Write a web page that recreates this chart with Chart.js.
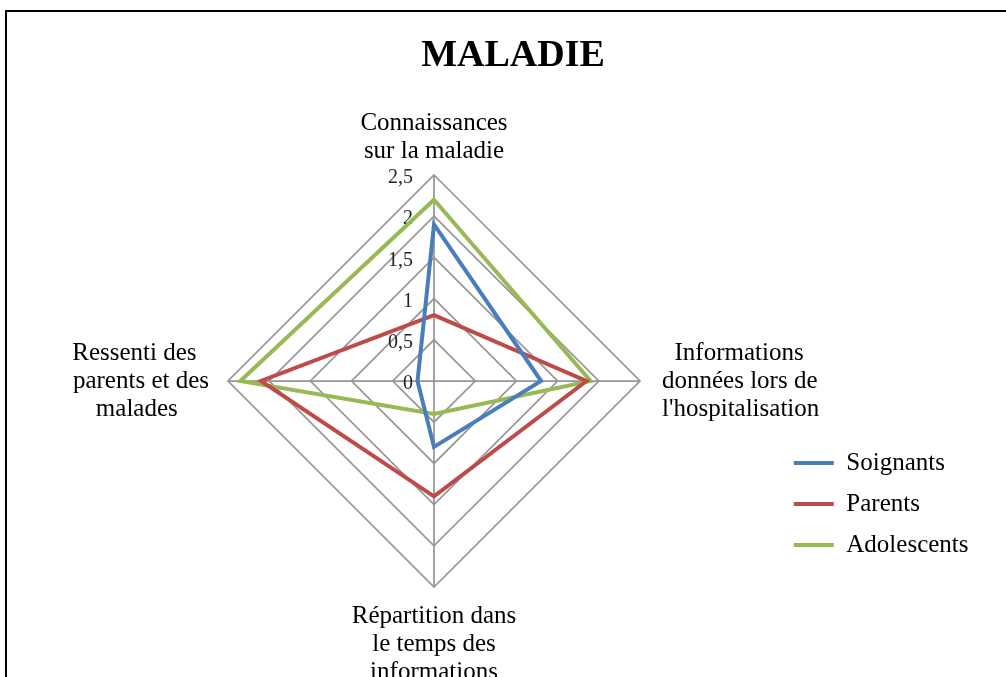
<!DOCTYPE html>
<html><head><meta charset="utf-8">
<script src="https://cdn.jsdelivr.net/npm/chart.js@4.4.1/dist/chart.umd.min.js"></script>
<style>
html,body{margin:0;padding:0;background:#fff;overflow:hidden;}
#wrap{position:relative;width:1006px;height:677px;}
#frame{position:absolute;left:5px;top:10px;width:1100px;height:800px;border-left:2px solid #000;border-top:2px solid #000;pointer-events:none;}
canvas{position:absolute;left:0;top:0;}
</style></head><body>
<div id="wrap"><canvas id="c"></canvas><div id="frame"></div></div>
<script>
// ---- data ----
const categories = [
  ["Connaissances", "sur la maladie"],
  ["  Informations", "données lors de", "l'hospitalisation"],
  ["Répartition dans", "le temps des", "informations"],
  ["Ressenti des  ", "parents et des", "malades     "]
];
const seriesNames = ["Soignants", "Parents", "Adolescents"];
const soignants   = [1.9, 1.3, 0.8, 0.2];
const parents     = [0.8, 1.85, 1.4, 2.1];
const adolescents = [2.2, 1.9, 0.4, 2.35];
const tickLabels  = ["0", "0,5", "1", "1,5", "2", "2,5"];

const SERIF = "'Liberation Serif', 'Times New Roman', serif";
const colors = ["#4a7ebb", "#be4b48", "#98b954"];

// geometry box for the radial scale (layout only)
const SCALE_BOX = {left: -60, right: 928, top: 93, bottom: 703};

const tickLabelPlugin = {
  id: 'tickLabelPlugin',
  beforeDatasetsDraw(chart) {
    const s = chart.scales.r;
    const ctx = chart.ctx;
    ctx.save();
    ctx.font = "20px " + SERIF;
    ctx.fillStyle = "#222";
    ctx.textAlign = "right";
    ctx.textBaseline = "middle";
    s.ticks.forEach((t, i) => {
      const d = s.getDistanceFromCenterForValue(t.value);
      ctx.fillText(tickLabels[i] !== undefined ? tickLabels[i] : String(t.value), s.xCenter - 21, s.yCenter - d + 3);
    });
    ctx.restore();
  }
};

const datasets = [soignants, parents, adolescents].map((vals, i) => ({
  label: seriesNames[i],
  data: vals,
  borderColor: colors[i],
  backgroundColor: colors[i],
  borderWidth: 4,
  pointRadius: 0,
  pointHoverRadius: 0,
  fill: false,
  tension: 0
}));

new Chart(document.getElementById('c'), {
  type: 'radar',
  data: { labels: categories, datasets },
  plugins: [tickLabelPlugin],
  options: {
    responsive: true,
    maintainAspectRatio: false,
    animation: false,
    layout: { padding: { left: 47.5, right: 27.5, top: 0, bottom: 103.5 } },
    elements: { line: { borderJoinStyle: 'miter' } },
    plugins: {
      title: {
        display: true,
        text: 'MALADIE',
        color: '#000',
        font: { family: SERIF, size: 38, weight: 'bold' },
        padding: { top: 33, bottom: 10 }
      },
      legend: {
        position: 'right',
        align: 'end',
        labels: {
          color: '#000',
          font: { family: SERIF, size: 25 },
          usePointStyle: true,
          pointStyle: 'line',
          pointStyleWidth: 40,
          padding: 16
        }
      },
      tooltip: { enabled: false }
    },
    scales: {
      r: {
        min: 0,
        max: 2.5,
        ticks: { stepSize: 0.5, display: false },
        grid: { color: '#969696', lineWidth: 1.75, circular: false },
        angleLines: { color: '#969696', lineWidth: 1.75 },
        pointLabels: {
          color: '#000',
          font: { family: SERIF, size: 25, lineHeight: '28px' },
          padding: (ctx) => [10, 22, 15, 19][ctx.index]
        },
        afterSetDimensions: (s) => {
          s.left = SCALE_BOX.left; s.right = SCALE_BOX.right;
          s.top = SCALE_BOX.top; s.bottom = SCALE_BOX.bottom;
          s.width = s.right - s.left; s.height = s.bottom - s.top;
          s.xCenter = Math.floor(s.left + s.width / 2);
          s.yCenter = Math.floor(s.top + s.height / 2);
          s.drawingArea = Math.floor(Math.min(s.width, s.height) / 2);
        }
      }
    }
  }
});
</script>
</body></html>
